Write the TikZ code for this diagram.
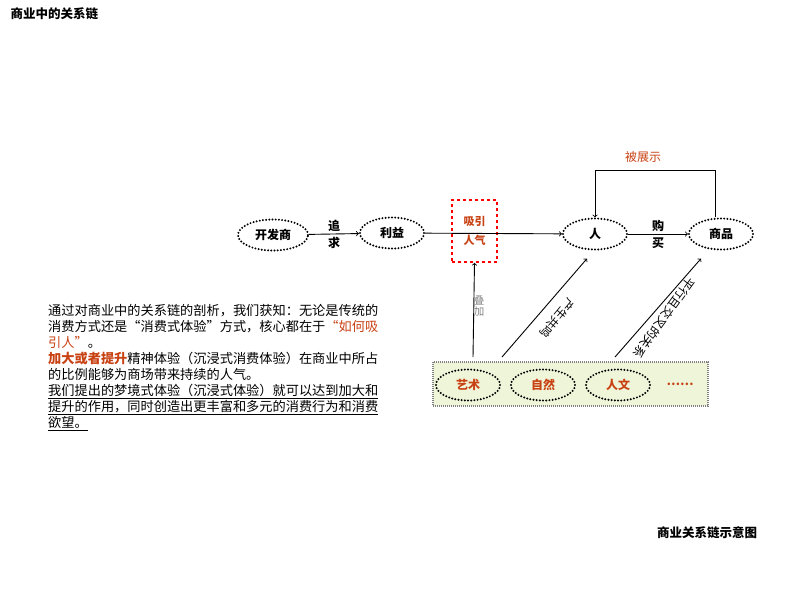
\documentclass[tikz,border=0pt]{standalone}
\usepackage{fontspec}
\setmainfont{Noto Sans CJK SC}
\usetikzlibrary{positioning, calc, shapes.geometric}
\definecolor{rust}{RGB}{200,66,20}
\definecolor{paleg}{RGB}{238,245,216}
\tikzset{
 dotell/.style={ellipse, draw, line width=2.2pt, dash pattern=on 0pt off 3.2pt, line cap=round,
   minimum width=64pt, minimum height=31pt, inner sep=0pt, font=\bfseries\fontsize{12}{12}\selectfont},
 arrow/.style={->, line width=0.9pt},
 redtext/.style={text=rust, font=\bfseries\fontsize{12}{12}\selectfont}
}

\begin{document}
\begin{tikzpicture}[x=1pt, y=-1pt]
 \useasboundingbox (0,0) rectangle (800,600);

 \node[anchor=west, font=\bfseries\fontsize{12.5}{12.5}\selectfont] (title) at (7,14) {商业中的关系链};
 \node[font=\bfseries\fontsize{12.5}{12.5}\selectfont] (caption) at (707,533) {商业关系链示意图};

 \node[dotell, minimum width=70pt] (dev) at (273,235) {开发商};
 \node[dotell] (profit) at (392,233) {利益};
 \node[dotell] (ren) at (595,234) {人};
 \node[dotell] (goods) at (721,234) {商品};

 \node[draw=red, dashed, line width=1.6pt, minimum width=45pt, minimum height=62pt] (pop) at (474.5,231) {};
 \node[text=rust, font=\bfseries\fontsize{11}{19}\selectfont, align=center] (poptext) at (pop) {吸引\\人气};

 \draw[arrow] (dev) -- (profit) node[midway, font=\bfseries\fontsize{12}{17}\selectfont, align=center] {追\\求};
 \draw[arrow] (profit) -- (ren);
 \draw[arrow] (ren) -- (goods) node[midway, font=\bfseries\fontsize{12}{17}\selectfont, align=center] {购\\买};

 \coordinate (loop) at (0,170);
 \draw[arrow] ([xshift=-6pt]goods.north) |- (ren |- loop) -- (ren.north);
 \node[text=rust, font=\fontsize{12}{12}\selectfont] (shown) at (643,157) {被展示};

 \node[draw=gray, fill=paleg, dash pattern=on 1pt off 1pt, line width=1.2pt, minimum width=275pt, minimum height=44pt] (base) at (570.5,384) {};
 \node[dotell, text=rust] (art) at (468,385) {艺术};
 \node[dotell, text=rust] (nature) at (543,385) {自然};
 \node[dotell, text=rust] (human) at (618,385) {人文};
 \node[redtext] (more) at (680,384) {……};

 \coordinate (s1) at (473,357);
 \coordinate (s2) at (502,357);
 \coordinate (s3) at (615,357);
 \draw[arrow] (s1) -- (pop.south);
 \draw[arrow] (s2) -- ([xshift=-8pt,yshift=-8pt]ren.south);
 \draw[arrow] (s3) -- ([xshift=-20pt,yshift=-8pt]goods.south);
 \node[text=gray, font=\fontsize{10.5}{11}\selectfont, align=center] (stack) at (479,306) {叠\\加};
 \node[rotate=-130, font=\fontsize{11.5}{11.5}\selectfont] (reson) at (557,318) {产生共鸣};
 \node[rotate=-126, font=\fontsize{12}{12}\selectfont] (cross) at (664,318) {平行且交叉的关系};

 \node[anchor=north west, align=left, font=\fontsize{13.2}{16}\selectfont, inner sep=0pt] (para) at (48,304) {%
 通过对商业中的关系链的剖析，我们获知：无论是传统的\\
 消费方式还是“消费式体验”方式，核心都在于{\color{rust}“如何吸}\\
 {\color{rust}引人”}。\\
 {\color{rust}\bfseries 加大或者提升}精神体验（沉浸式消费体验）在商业中所占\\
 的比例能够为商场带来持续的人气。\\
 \underline{我们提出的梦境式体验（沉浸式体验）就可以达到加大和}\\
 \underline{提升的作用，同时创造出更丰富和多元的消费行为和消费}\\
 \underline{欲望。}};
\end{tikzpicture}
\end{document}
